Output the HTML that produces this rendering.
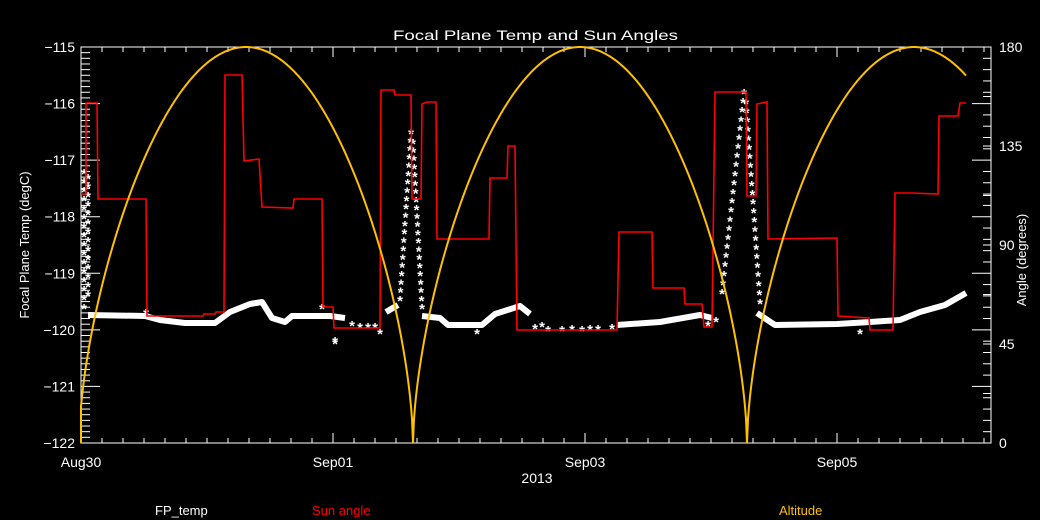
<!DOCTYPE html>
<html><head><meta charset="utf-8"><style>
html,body{margin:0;padding:0;background:#000;}
svg{display:block;font-family:"Liberation Sans",sans-serif;}
</style></head><body>
<svg id="s" width="1040" height="520" viewBox="0 0 1040 520" xmlns="http://www.w3.org/2000/svg">
<rect width="1040" height="520" fill="#000"/>
<g id="ax" stroke="#fff" stroke-width="1" fill="none"></g>
<g id="txt" fill="#fff" font-size="14"></g>
<g fill="none" stroke="#fff" stroke-width="6" stroke-linejoin="round">
<polyline points="88,315 145,316 160,320 185,323 215,323 230,312 250,304 262,302 272,318 285,322 292,316 330,316 345,318"/>
<polyline points="386,312 398,305"/>
<polyline points="422,316 440,318 448,325 482,325 495,314 520,306 530,314"/>
<polyline points="617,325 660,322 700,315 712,318"/>
<polyline points="757,313 775,325 837,324 870,322 900,320 920,312 945,305 966,293"/>
</g>
<g id="stars" fill="#fff" font-size="15" font-weight="bold" text-anchor="middle"></g>
<polyline id="red" fill="none" stroke="#ff0000" stroke-width="1.6" points=""/>
<polyline id="alt" fill="none" stroke="#ffc000" stroke-width="2" points=""/>
</svg>
<script>
var NS="http://www.w3.org/2000/svg";
function el(p,t,a,tx){var e=document.createElementNS(NS,t);for(var k in a)e.setAttribute(k,a[k]);if(tx!==undefined)e.textContent=tx;document.getElementById(p).appendChild(e);return e;}
var L=81,R=991,T=47,B=443;
el('ax','rect',{x:L,y:T,width:R-L,height:B-T});
for(var i=0;i<=43;i++){var x=L+i*21;if(x>R)break;var big=(i%12==0);var h=big?10:5;
el('ax','line',{x1:x,y1:B,x2:x,y2:B-h});el('ax','line',{x1:x,y1:T,x2:x,y2:T+h});}
var u=(B-T)/7;
for(var i=0;i<=70;i++){var y=T+i*u/10;var h=(i%10==0)?19:9;el('ax','line',{x1:L,y1:y,x2:L+h,y2:y});}
for(var i=0;i<=35;i++){var y=T+i*u/5;var h=(i%5==0)?19:8;el('ax','line',{x1:R,y1:y,x2:R-h,y2:y});}
for(var i=0;i<=8;i++){var y=B-i*(B-T)/8;el('ax','line',{x1:R,y1:y,x2:R-8,y2:y});}
for(var i=0;i<=7;i++){el('txt','text',{x:75,y:T+i*u+5,'text-anchor':'end'},'\u2212'+(115+i));}
var ra=[[0,'0'],[45,'45'],[90,'90'],[135,'135'],[180,'180']];
ra.forEach(function(r){el('txt','text',{x:999,y:B-r[0]/180*(B-T)+5},r[1]);});
[[81,'Aug30'],[333,'Sep01'],[585,'Sep03'],[837,'Sep05']].forEach(function(r){el('txt','text',{x:r[0],y:467,'text-anchor':'middle'},r[1]);});
el('txt','text',{x:537,y:483,'text-anchor':'middle'},'2013');
el('txt','text',{x:393,y:40,textLength:285,lengthAdjust:'spacingAndGlyphs'},'Focal Plane Temp and Sun Angles');
el('txt','text',{x:29,y:245,'text-anchor':'middle',transform:'rotate(-90 29 245)','font-size':'13'},'Focal Plane Temp (degC)');
el('txt','text',{x:1026,y:260,'text-anchor':'middle',transform:'rotate(-90 1026 260)','font-size':'13'},'Angle (degrees)');
el('txt','text',{x:155,y:515,'font-size':'13'},'FP_temp');
el('txt','text',{x:312,y:515,'font-size':'13',fill:'#ff0000'},'Sun angle');
el('txt','text',{x:779,y:515,'font-size':'13',fill:'#ffc000'},'Altitude');
var rp=[[81,194],[86,194],[86,103],[97,103],[98,199],[146,199],[147,316],[203,316],[204,314],[215,314],[216,312],[224,312],[225,75],[242,75],[244,161],[259,159],[262,207],[293,208],[294,199],[322,199],[323,307],[333,307],[334,328],[380,328],[381,90],[394,90],[395,95],[411,95],[412,199],[421,199],[422,104],[427,102],[436,102],[437,239],[489,239],[490,178],[507,178],[508,146],[515,146],[517,330],[617,330],[619,232],[652,232],[653,288],[684,288],[685,304],[702,304],[704,327],[712,327],[715,92],[746,92],[747,196],[756,196],[757,104],[767,102],[768,239],[837,238],[838,316],[869,318],[870,330],[893,330],[895,193],[912,193],[938,194],[939,116],[958,116],[960,103],[966,103]];
document.getElementById('red').setAttribute('points',rp.map(function(p){return p.join(',')}).join(' '));
var ap=[];for(var x=79;x<=966;x+=1){var ph=((x-79)/167)%2;var d=ph>1?2-ph:ph;var a=Math.pow(Math.sin(Math.PI/2*d),0.6);var xx=Math.max(x,81);ap.push(xx+','+(B-a*(B-T)).toFixed(1));}
document.getElementById('alt').setAttribute('points',ap.join(' '));
function st(x,y){el('stars','text',{x:x,y:y+9},'*');}
for(var y=170;y<=310;y+=9)st(84,y);
for(var y=175;y<=300;y+=9)st(88,y);
[[335,338],[352,322],[360,324],[368,324],[375,324],[380,330],[146,310],[322,305],[335,340],[535,325],[542,323],[548,327],[562,327],[572,326],[582,327],[590,326],[598,326],[612,325],[477,330],[860,330],[716,318],[708,322]].forEach(function(p){st(p[0],p[1]);});
for(var i=0;i<=20;i++){var t=i/20;st(400+t*11,297-t*167);st(413+t*9,140+t*165);}
for(var i=0;i<=22;i++){var t=i/22;st(722+t*22,290-t*200);st(746+t*14,100+t*200);}
</script>
</body></html>
